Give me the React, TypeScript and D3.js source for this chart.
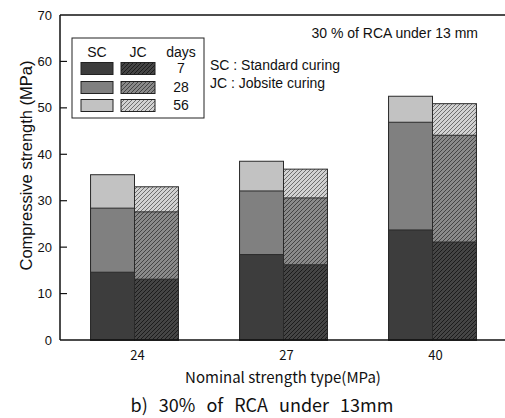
import React from "react";
import * as d3 from "d3";

// Nominal strength types on the x axis
const categories = ["24", "27", "40"];
// Curing methods: standard (SC) and jobsite (JC)
const curing = ["SC", "JC"];
// Ages in days
const ages = ["7", "28", "56"];

// Compressive strength (MPa) by age, one value per nominal strength type
const sc7 = [14.6, 18.4, 23.7];
const sc28 = [28.4, 32.1, 46.9];
const sc56 = [35.6, 38.5, 52.5];
const jc7 = [13.1, 16.2, 21.1];
const jc28 = [27.6, 30.6, 44.1];
const jc56 = [33.0, 36.8, 50.9];

const yTicks = [0, 10, 20, 30, 40, 50, 60, 70];

const W = 505;
const H = 418;
const left = 60;
const right = 507;
const top = 15;
const bottom = 340;

const solidFill: Record<string, string> = { "7": "#3d3d3d", "28": "#808080", "56": "#c2c2c2" };
const hatchBase: Record<string, string> = { "7": "#454545", "28": "#8a8a8a", "56": "#d2d2d2" };
const hatchLine: Record<string, string> = { "7": "#1c1c1c", "28": "#444444", "56": "#6e6e6e" };

const fillFor = (c: string, age: string) =>
  c === "SC" ? solidFill[age] : `url(#hatch-${age})`;

export default function App() {
  const x0 = d3
    .scaleBand<string>()
    .domain(categories)
    .range([left, right])
    .paddingInner(0.41)
    .paddingOuter(0.205);
  const x1 = d3.scaleBand<string>().domain(curing).range([0, x0.bandwidth()]);
  const y = d3.scaleLinear().domain([0, 70]).range([bottom, top]);

  const series: Record<string, Record<string, number[]>> = {
    SC: { "7": sc7, "28": sc28, "56": sc56 },
    JC: { "7": jc7, "28": jc28, "56": jc56 },
  };

  // back-to-front so the earlier ages sit in front of the later ones
  const drawOrder = ["56", "28", "7"];

  const font = "'Liberation Sans', Arial, sans-serif";
  const krFont = "'Noto Sans CJK KR', 'Liberation Sans', sans-serif";

  // legend geometry
  const lgX = 72;
  const lgY = 38;
  const rowY = [68.5, 87.5, 105.5];

  return (
    <svg
      width={W}
      height={H}
      style={{ position: "absolute", left: 0, top: 0, background: "#fff" }}
      fontFamily={font}
    >
      <defs>
        {ages.map((a) => (
          <pattern
            key={a}
            id={`hatch-${a}`}
            patternUnits="userSpaceOnUse"
            width={4}
            height={4}
          >
            <rect width={4} height={4} fill={hatchBase[a]} />
            <path
              d="M-1,1 l2,-2 M0,4 l4,-4 M3,5 l2,-2"
              stroke={hatchLine[a]}
              strokeWidth={1}
            />
          </pattern>
        ))}
      </defs>

      {/* bars */}
      {categories.map((cat, i) =>
        curing.map((c) =>
          drawOrder.map((age) => {
            const v = series[c][age][i];
            const bx = (x0(cat) ?? 0) + (x1(c) ?? 0);
            return (
              <rect
                key={`${cat}-${c}-${age}`}
                x={bx}
                y={y(v)}
                width={x1.bandwidth()}
                height={bottom - y(v)}
                fill={fillFor(c, age)}
                stroke="#2a2a2a"
                strokeWidth={1}
              />
            );
          })
        )
      )}

      {/* frame */}
      <line x1={left} x2={left} y1={top} y2={bottom} stroke="#111" strokeWidth={1.5} />
      <line x1={left} x2={W} y1={top} y2={top} stroke="#111" strokeWidth={1.5} />
      <line x1={left} x2={W} y1={bottom} y2={bottom} stroke="#111" strokeWidth={1.5} />

      {/* y ticks */}
      {yTicks.map((t) => (
        <g key={t}>
          {t > 0 && t < 70 && (
            <line x1={left} x2={left + 7} y1={y(t)} y2={y(t)} stroke="#111" strokeWidth={1.2} />
          )}
          <text
            x={52}
            y={y(t)}
            dy="0.35em"
            textAnchor="end"
            fontSize={13}
            fill="#111"
          >
            {t}
          </text>
        </g>
      ))}

      <text
        transform={`translate(26, ${(top + bottom) / 2 - 12}) rotate(-90)`}
        textAnchor="middle"
        dy="0.35em"
        fontSize={16.5}
        fill="#111"
      >
        Compressive strength (MPa)
      </text>

      {/* x labels */}
      {categories.map((cat) => (
        <text
          key={cat}
          x={(x0(cat) ?? 0) + x0.bandwidth() / 2 + 3}
          y={355}
          dy="0.35em"
          textAnchor="middle"
          fontSize={13}
          fontFamily={krFont}
          fill="#111"
        >
          {cat}
        </text>
      ))}
      <text x={283} y={378} dy="0.35em" textAnchor="middle" fontSize={15} fontFamily={krFont} fill="#111">
        Nominal strength type(MPa)
      </text>
      <text x={262} y={406} dy="0.35em" textAnchor="middle" fontSize={18} fontFamily={krFont} fill="#111" wordSpacing={7}>
        b) 30% of RCA under 13mm
      </text>

      {/* annotation */}
      <text x={478} y={33} dy="0.35em" textAnchor="end" fontSize={14} fill="#111">
        30 % of RCA under 13 mm
      </text>
      <text x={210} y={65} dy="0.35em" fontSize={14} fill="#111">
        SC : Standard curing
      </text>
      <text x={210} y={83} dy="0.35em" fontSize={14} fill="#111">
        JC : Jobsite curing
      </text>

      {/* legend */}
      <rect x={lgX} y={lgY} width={132} height={80} fill="#fff" stroke="#222" strokeWidth={1} />
      <text x={97} y={52} dy="0.35em" textAnchor="middle" fontSize={14} fill="#111">SC</text>
      <text x={138} y={52} dy="0.35em" textAnchor="middle" fontSize={14} fill="#111">JC</text>
      <text x={181} y={52} dy="0.35em" textAnchor="middle" fontSize={14} fill="#111">days</text>
      {ages.map((a, k) => (
        <g key={a}>
          <rect x={81} y={rowY[k] - 6} width={32} height={12} fill={fillFor("SC", a)} stroke="#222" strokeWidth={1} />
          <rect x={121} y={rowY[k] - 6} width={34} height={12} fill={fillFor("JC", a)} stroke="#222" strokeWidth={1} />
          <text x={181} y={rowY[k]} dy="0.35em" textAnchor="middle" fontSize={14} fill="#111">
            {a}
          </text>
        </g>
      ))}
    </svg>
  );
}
